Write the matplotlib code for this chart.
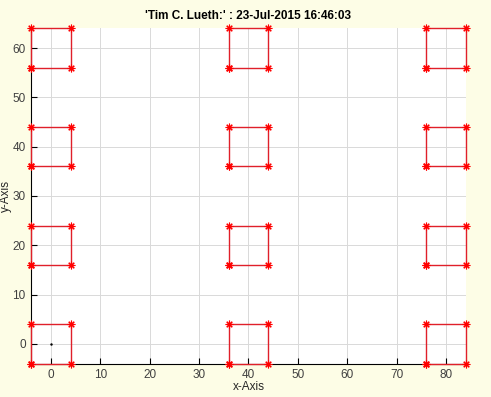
import matplotlib
matplotlib.use("Agg")
import matplotlib.pyplot as plt
import numpy as np

plt.rcParams['font.family'] = ['Liberation Sans', 'DejaVu Sans']

# Square centres and half-size
centers_x = [0, 40, 80]
centers_y = [0, 20, 40, 60]
half = 4
origin = (0, 0)
title = "'Tim C. Lueth:' : 23-Jul-2015 16:46:03"

fig = plt.figure(figsize=(4.91, 3.97), dpi=100, facecolor='#fdfde6')
ax = fig.add_axes([0.0636, 0.0839, 0.8850, 0.8448])
ax.set_facecolor('white')

for cx in centers_x:
    for cy in centers_y:
        xs = [cx - half, cx + half, cx + half, cx - half, cx - half]
        ys = [cy - half, cy - half, cy + half, cy + half, cy - half]
        ax.plot(xs, ys, color='#e0202a', lw=1.0, marker=(8, 2, 0), ms=5.5,
                mec='red', mfc='red', mew=0.8, clip_on=False, zorder=3)

ax.plot([origin[0]], [origin[1]], marker='.', ms=1.5, color='black')

ax.set_xlim(-4, 84)
ax.set_ylim(-4, 64)
ax.set_xticks(np.arange(0, 81, 10))
ax.set_yticks(np.arange(0, 61, 10))
ax.grid(True, color='#d9d9d9', lw=0.7)
ax.set_axisbelow(True)
for s in ['top', 'right']:
    ax.spines[s].set_visible(False)
for s in ['left', 'bottom']:
    ax.spines[s].set_color('black')
    ax.spines[s].set_linewidth(0.8)
ax.tick_params(direction='in', length=4, labelsize=8.5, labelcolor='#404040',
               width=0.8, pad=4)
ax.set_xlabel('x-Axis', fontsize=8.5, color='#262626', labelpad=0)
ax.set_ylabel('y-Axis', fontsize=8.5, color='#262626', labelpad=0)
ax.set_title(title, fontsize=8.5, fontweight='bold', pad=7)

fig.savefig('out.png', dpi=100, facecolor=fig.get_facecolor())
